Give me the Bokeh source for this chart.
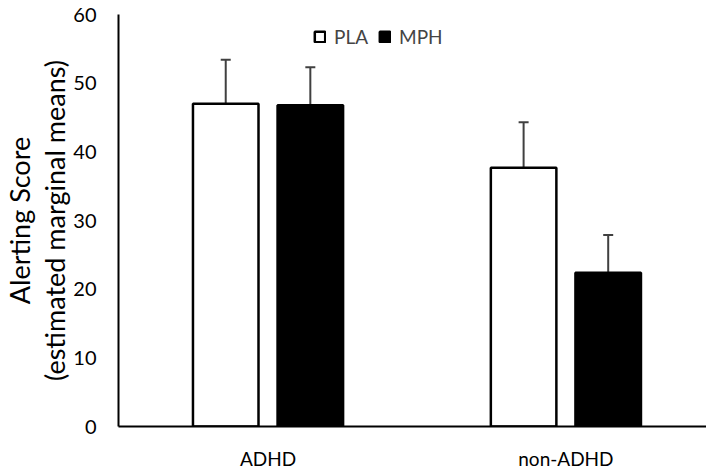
from bokeh.plotting import figure
from bokeh.models import ColumnDataSource, Range1d, FixedTicker, Whisker, TeeHead, Legend, LegendItem, Title
from bokeh.transform import dodge
from bokeh.embed import file_html
from bokeh.resources import INLINE

groups = ["ADHD", "non-ADHD"]
pla = [47.0, 37.7]
pla_err = [6.4, 6.6]
mph = [46.8, 22.4]
mph_err = [5.5, 5.5]
y_ticks = [0, 10, 20, 30, 40, 50, 60]
y_label = ["Alerting Score", "(estimated marginal means)"]

idx = list(range(len(groups)))
src = ColumnDataSource(dict(
    x=idx,
    pla=pla, pla_top=[v + e for v, e in zip(pla, pla_err)],
    mph=mph, mph_top=[v + e for v, e in zip(mph, mph_err)],
))

FONT = "Lato"
p = figure(frame_width=588, frame_height=412, output_backend="svg", toolbar_location=None,
           x_range=Range1d(-0.502, 1.472), y_range=Range1d(0, 60),
           min_border_left=0, min_border_right=0, min_border_top=14, min_border_bottom=0)
p.outline_line_color = None
p.xgrid.grid_line_color = None
p.ygrid.grid_line_color = None

off = 0.142
w = 0.22
r1 = p.vbar(x=dodge("x", -off), top="pla", bottom=0, width=w, source=src,
            fill_color="white", line_color="black", line_width=2.5)
r2 = p.vbar(x=dodge("x", off), top="mph", bottom=0, width=w, source=src,
            fill_color="black", line_color="black", line_width=2.5)

for top, base, o in [("pla_top", "pla", -off), ("mph_top", "mph", off)]:
    wk = Whisker(base=dodge("x", o), upper=top, lower=base, source=src,
                 line_color="#404040", line_width=2,
                 upper_head=TeeHead(size=10, line_color="#404040", line_width=2),
                 lower_head=None, level="underlay")
    p.add_layout(wk)

p.xaxis.ticker = FixedTicker(ticks=idx)
p.xaxis.major_label_overrides = {i: g for i, g in zip(idx, groups)}
p.yaxis.ticker = FixedTicker(ticks=y_ticks)
for ax in (p.xaxis, p.yaxis):
    ax.axis_line_color = "black"
    ax.axis_line_width = 2
    ax.major_tick_line_color = None
    ax.minor_tick_line_color = None
    ax.major_label_text_font = FONT
    ax.major_label_text_font_size = "20px"
    ax.major_label_text_color = "black"
p.xaxis.major_label_text_font_size = "19px"
p.xaxis.major_label_standoff = 14
p.yaxis.major_label_standoff = 16

for t, st in [(y_label[1], 0), (y_label[0], 0)]:
    p.add_layout(Title(text=t, align="center", text_font=FONT, text_font_style="normal",
                       text_font_size="27px", text_color="black", standoff=st), "left")

legend = Legend(items=[LegendItem(label="PLA", renderers=[r1]),
                       LegendItem(label="MPH", renderers=[r2])],
                orientation="horizontal", location=(195, 378),
                border_line_color=None, background_fill_alpha=0,
                label_text_font=FONT, label_text_font_size="19px",
                glyph_width=13, glyph_height=13, spacing=10, label_standoff=8,
                padding=4, margin=0)
p.add_layout(legend)

open("out.html", "w").write(file_html(p, INLINE))
